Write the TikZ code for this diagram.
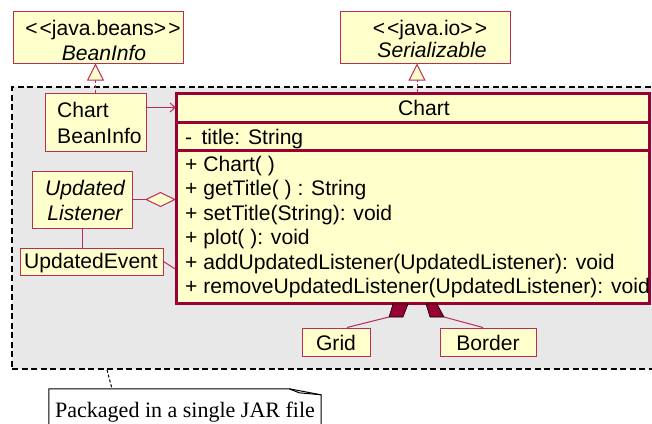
\documentclass[tikz,border=0pt]{standalone}
\usepackage{fontspec}
\setmainfont{Liberation Sans}
\newfontfamily\notefont{Liberation Serif}
\usetikzlibrary{arrows.meta}
\definecolor{umlred}{RGB}{153,0,51}
\definecolor{umlthin}{RGB}{185,45,90}
\definecolor{umlfill}{RGB}{255,255,204}
\definecolor{pkggray}{RGB}{232,232,232}
\newcommand\umlsize{\fontsize{21.1}{24.5}\selectfont}
\begin{document}
\begin{tikzpicture}[x=1pt,y=-1pt,
  box/.style={draw=umlthin, line width=1pt, fill=umlfill, inner sep=0pt},
  lbl/.style={inner sep=0pt, font=\umlsize},
  thickbox/.style={draw=umlred, line width=3pt, fill=umlfill, inner sep=0pt},
  compart/.style={inner sep=0pt, minimum width=473pt},
  sepline/.style={draw=umlred, line width=3pt},
  assoc/.style={draw=umlthin, line width=1pt},
  realize/.style={draw=umlthin, line width=1pt, dash pattern=on 3pt off 2pt,
    -{Triangle[length=17pt,width=17pt,fill=umlfill,line width=1pt]}},
  pkgbox/.style={draw=black, line width=1.6pt, dash pattern=on 6pt off 3.5pt,
    fill=pkggray, inner sep=0pt},
  notelink/.style={draw=black, line width=1pt, dash pattern=on 3pt off 2pt},
  compo/.style={fill=umlred, draw=black, line width=0.6pt}]
\useasboundingbox (0,0) rectangle (652,423);

% package (its right edge runs past the page)
\node[pkgbox, minimum width=658pt, minimum height=282pt] (pkg) at (341,228) {};

% interfaces
\node[box, minimum width=170pt, minimum height=52pt] (beaninfo) at (98,37) {};
\node[lbl, anchor=base] (beaninfoA) at (103,35) {<\kern2pt<java.beans>\kern2pt>};
\node[lbl, anchor=base] (beaninfoB) at (104,60) {\itshape BeanInfo};

\node[box, minimum width=170pt, minimum height=52pt] (ser) at (425,37) {};
\node[lbl, anchor=base] (serA) at (430,35) {<\kern2pt<java.io>\kern2pt>};
\node[lbl, anchor=base] (serB) at (432,57) {\itshape Serializable};

% helper classes
\node[box, minimum width=101pt, minimum height=58pt] (cbi) at (95.5,122) {};
\node[lbl, anchor=base west] (cbiA) at (57,117) {Chart};
\node[lbl, anchor=base west] (cbiB) at (57,143) {BeanInfo};

\node[box, minimum width=100pt, minimum height=57pt] (ul) at (82,199.5) {};
\node[lbl, anchor=base] (ulA) at (85,195) {\itshape Updated};
\node[lbl, anchor=base] (ulB) at (85,220) {\itshape Listener};

\node[box, minimum width=143pt, minimum height=27pt] (ue) at (91.5,261.5) {};
\node[lbl, anchor=base] (ueA) at (91,268) {UpdatedEvent};

\node[box, minimum width=68pt, minimum height=28pt] (grid) at (336,342) {};
\node[lbl, anchor=base] (gridA) at (336,350) {Grid};
\node[box, minimum width=96pt, minimum height=28pt] (border) at (488,342) {};
\node[lbl, anchor=base] (borderA) at (488,350) {Border};

% connectors between the small classes
\draw[realize] (cbi.north) -- (cbi.north |- beaninfo.south);
\draw[assoc] (ul.south) -- (ul.south |- ue.north);
\draw[assoc] (ue.east) -- ([yshift=-8pt]ue.east -| 176,0);
\draw[assoc, -{Diamond[length=31pt,width=15pt,fill=umlfill,line width=1pt]}]
  (ul.east) -- (ul.east -| 176,0);

% class Chart
\node[thickbox, minimum width=473pt, minimum height=210pt] (chart) at (412.5,198) {};
\node[compart, minimum height=29pt] (hdr) at (412.5,107.5) {};
\node[compart, minimum height=28pt] (attr) at (412.5,136) {};
\draw[sepline] (hdr.south west) -- (hdr.south east);
\draw[sepline] (attr.south west) -- (attr.south east);
\node[lbl, anchor=base] (title) at (424,115) {Chart};
\node[lbl, anchor=base west] (a1) at (185,144) {-\, title: String};
\node[lbl, anchor=base west] (m1) at (185,171) {+ Chart( )};
\node[lbl, anchor=base west] (m2) at (185,195.5) {+ getTitle( ) : String};
\node[lbl, anchor=base west] (m3) at (185,220) {+ setTitle(String): void};
\node[lbl, anchor=base west] (m4) at (185,244.5) {+ plot( ): void};
\node[lbl, anchor=base west] (m5) at (185,269) {+ addUpdatedListener(UpdatedListener): void};
\node[lbl, anchor=base west] (m6) at (185,293.5) {+ removeUpdatedListener(UpdatedListener): void};

% links into Chart
\draw[assoc, -{Straight Barb[length=5pt,width=9pt,line width=1pt]}]
  (hdr.west -| cbi.east) -- (hdr.west);
\draw[realize] ([xshift=4.5pt]chart.north) -- ([xshift=4.5pt]chart.north |- ser.south);

% composition diamonds under Chart
\coordinate (gtip) at (389,317);
\coordinate (btip) at (444,317);
\draw[compo] (393,304) -- (408,304) -- (403,317) -- (gtip) -- cycle;
\draw[compo] (426,304) -- (437,304) -- (btip) -- (430,317) -- cycle;
\draw[assoc] ([xshift=11pt]grid.north) -- (gtip);
\draw[assoc] ([xshift=-5pt]border.north) -- (btip);

% note
\node[inner sep=0pt, minimum width=272pt, minimum height=60pt] (note) at (185,419) {};
\draw[black, line width=1pt, fill=white]
  (note.south west) -- (note.north west) -- ([xshift=-32pt]note.north east)
  -- ([yshift=-6pt]note.north east) -- (note.south east);
\draw[black, line width=1pt]
  ([xshift=-32pt]note.north east) -- ([xshift=-22pt,yshift=-4pt]note.north east)
  -- ([yshift=-6pt]note.north east);
\node[inner sep=0pt, anchor=base west, font=\notefont\fontsize{22}{26}\selectfont]
  (noteA) at (55,417) {Packaged in a single JAR file};
\draw[notelink] ([xshift=-234pt]pkg.south) -- ([xshift=-73pt]note.north);
\end{tikzpicture}
\end{document}
